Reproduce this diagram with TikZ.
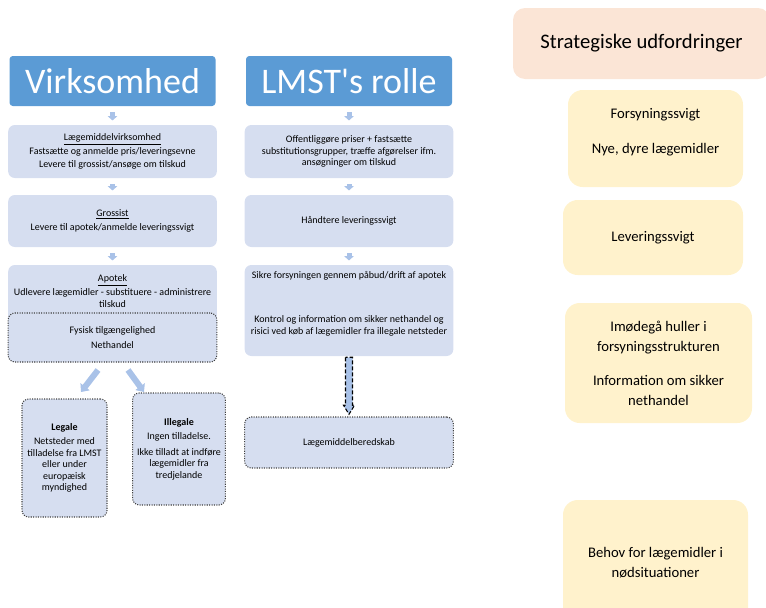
\documentclass[tikz,border=0pt]{standalone}
\usepackage{fontspec}
\setmainfont{Carlito}
\usetikzlibrary{arrows.meta, calc}
\definecolor{headblue}{HTML}{5B9BD5}
\definecolor{flowblue}{HTML}{D6DEF0}
\definecolor{linkblue}{HTML}{A9C2E8}
\definecolor{peach}{HTML}{FBE5D6}
\definecolor{cream}{HTML}{FFF2CC}

\begin{document}
\begin{tikzpicture}[
    x=0.75pt, y=-0.75pt,
    head/.style={
        fill=headblue, rounded corners=2.5pt, text=white,
        minimum width=154.5pt, minimum height=37.5pt,
        font=\fontsize{27}{30}\selectfont
    },
    flowbox/.style={
        fill=flowblue, rounded corners=5pt,
        minimum width=156.5pt, align=center,
        font=\fontsize{7.5}{8.6}\selectfont
    },
    dotbox/.style={
        flowbox, draw=black!75, densely dotted, line width=0.8pt
    },
    txt/.style={
        align=center, inner sep=0pt,
        font=\fontsize{7.5}{8.6}\selectfont
    },
    topic/.style={
        fill=peach, rounded corners=9pt,
        minimum width=192.75pt, minimum height=53.25pt,
        font=\fontsize{15.5}{18}\selectfont
    },
    challenge/.style={
        fill=cream, rounded corners=11pt, align=center,
        font=\fontsize{11}{15}\selectfont
    },
    link/.style={
        draw=linkblue, line width=3.75pt,
        -{Triangle[width=7pt,length=3.2pt]},
        shorten <=4.5pt, shorten >=3.2pt
    },
    fork/.style={
        draw=linkblue, line width=4.5pt,
        -{Triangle[width=8.5pt,length=5pt]}
    },
    dasharrow/.style={
        draw=black, fill=linkblue, line width=0.8pt,
        dash pattern=on 3pt off 1.5pt
    }
]
\useasboundingbox (0,0) rectangle (766,607);
\clip (0,0) rectangle (766,607);

% headers
\node[head] (hv) at (112.5,81) {Virksomhed};
\node[head] (hl) at (349,81) {LMST\textquotesingle s rolle};

% left column
\node[flowbox, minimum height=39.75pt] (b1) at (112.5,151.5)
    {\underline{Lægemiddelvirksomhed}\\[2pt]Fastsætte og anmelde pris/leveringsevne\\[1.5pt]Levere til grossist/ansøge om tilskud};
\node[flowbox, minimum height=39pt] (b2) at (112.5,221)
    {\underline{Grossist}\\[2.5pt]Levere til apotek/anmelde leveringssvigt};
\node[flowbox, minimum height=72.75pt] (b3) at (112.5,313.5) {};
\node[txt] (b3t) at (112.5,291)
    {\underline{Apotek}\\[2pt]Udlevere lægemidler - substituere - administrere\\tilskud};
\node[dotbox, minimum height=36.75pt] (fys) at (112.5,337.5)
    {Fysisk tilgængelighed\\[2.5pt]Nethandel};

\node[dotbox, minimum width=63.75pt, minimum height=88.5pt] (leg) at (64.5,458)
    {\textbf{Legale}\\[2pt]Netsteder med\\tilladelse fra LMST\\eller under\\europæisk\\myndighed};
\node[dotbox, minimum width=69pt, minimum height=84pt] (ill) at (179,449)
    {\textbf{Illegale}\\[2.5pt]Ingen tilladelse.\\[3pt]Ikke tilladt at indføre\\lægemidler fra\\tredjelande};

\draw[link] (hv) -- (b1);
\draw[link] (b1) -- (b2);
\draw[link] (b2) -- (b3);

\coordinate (legtop) at (98,370);
\coordinate (legtip) at (81,392);
\coordinate (illtop) at (128,370);
\coordinate (illtip) at (144,392);
\draw[fork] (legtop) -- (legtip);
\draw[fork] (illtop) -- (illtip);

% right column
\node[flowbox, minimum height=39.75pt] (r1) at (349,151.5)
    {Offentliggøre priser + fastsætte\\substitutionsgrupper, træffe afgørelser ifm.\\ansøgninger om tilskud};
\node[flowbox, minimum height=39pt] (r2) at (349,221) {Håndtere leveringssvigt};
\node[flowbox, minimum height=68.25pt] (r3) at (349,310.5) {};
\node[txt] (r3a) at (349,276) {Sikre forsyningen gennem påbud/drift af apotek};
\node[txt] (r3b) at (349,326)
    {Kontrol og information om sikker nethandel og\\risici ved køb af lægemidler fra illegale netsteder};
\node[dotbox, minimum height=38.25pt] (ber) at (349,442.5) {Lægemiddelberedskab};

\draw[link] (hl) -- (r1);
\draw[link] (r1) -- (r2);
\draw[link] (r2) -- (r3);
\draw[dasharrow] ($(r3.south)+(-3.5,1)$) -- ++(0,48) -- ++(-2,0) -- ++(5.5,9)
    -- ++(5.5,-9) -- ++(-2,0) -- ++(0,-48) -- cycle;

% challenges
\node[topic] (strat) at (641.5,43.5) {Strategiske udfordringer};
\node[challenge, minimum width=131.25pt, minimum height=72.75pt] (fs) at (655.5,138.5)
    {Forsyningssvigt\\[11pt]Nye, dyre lægemidler\\[-4pt]\mbox{}};
\node[challenge, minimum width=135pt, minimum height=56.25pt] (lv) at (653,237.5)
    {Leveringssvigt};
\node[challenge, minimum width=140.25pt, minimum height=90pt] (im) at (658.5,363)
    {Imødegå huller i\\forsyningsstrukturen\\[10.5pt]Information om sikker\\nethandel};
\node[challenge, minimum width=138.75pt, minimum height=93.75pt] (be) at (655.5,562.5)
    {Behov for lægemidler i\\nødsituationer};
\end{tikzpicture}
\end{document}
